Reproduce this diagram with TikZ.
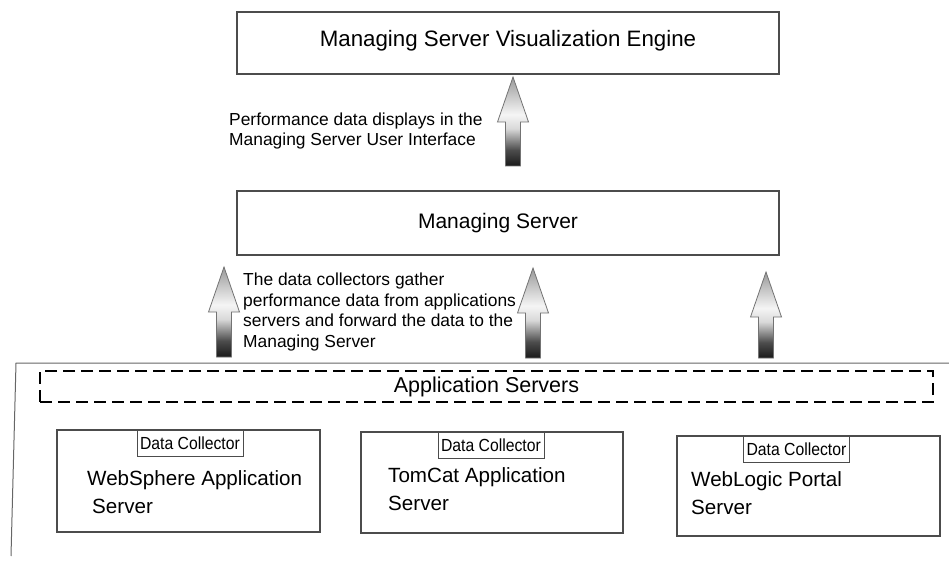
\documentclass[tikz,border=0pt]{standalone}
\usepackage{fontspec}
\setmainfont{Liberation Sans}
\newfontfamily\narrowfont[FakeStretch=0.9]{Liberation Sans}
\usetikzlibrary{positioning}

\pgfdeclareverticalshading{arrowshade}{100bp}{color(0bp)=(black!90);
  color(25bp)=(black!90); color(34bp)=(black!70); color(46bp)=(black!15);
  color(54bp)=(black!4); color(75bp)=(black!40); color(100bp)=(black!40)}

\newcommand\upblock[3]{%
  \path[blockarrow] (#1-7.5,#3) -- (#1-7.5,#2+45) -- (#1-15.5,#2+45) -- (#1,#2)
    -- (#1+15.5,#2+45) -- (#1+7.5,#2+45) -- (#1+7.5,#3) -- cycle;}

\begin{document}
\begin{tikzpicture}[x=1pt, y=-1pt,
    box/.style = {rectangle, draw=black!70, line width=1.2pt, inner sep=0pt},
    title/.style = {font=\fontsize{21.5}{26}\selectfont},
    note/.style = {font=\fontsize{17.4}{20.5}\selectfont, align=left, inner sep=0pt},
    dctab/.style = {rectangle, draw=black!70, line width=1pt, minimum width=106pt,
      minimum height=27pt, inner sep=0pt, anchor=north,
      font=\narrowfont\fontsize{17.5}{20}\selectfont},
    srvname/.style = {font=\fontsize{20.6}{28}\selectfont, align=left,
      inner sep=0pt, anchor=west},
    blockarrow/.style = {draw=black!55, line width=0.8pt, shading=arrowshade}]
  \useasboundingbox (0,0) rectangle (949,561);

  \node[box, font=\fontsize{22.3}{26}\selectfont, text depth=9pt,
    minimum width=542pt, minimum height=62pt] (engine) at (508,43)
    {Managing Server Visualization Engine};
  \node[box, font=\fontsize{21}{26}\selectfont, minimum width=542pt,
    minimum height=64pt] (mserver) at (508,223)
    {\hspace*{-20pt}Managing Server};

  \node[note, anchor=west] (perfnote) at (229,131)
    {Performance data displays in the\\Managing Server User Interface};
  \node[note, anchor=north west] (gathernote) at (243,273)
    {The data collectors gather\\performance data from applications\\
     servers and forward the data to the\\Managing Server};

  \upblock{513}{77}{166}
  \upblock{224}{267}{357}
  \upblock{533}{268}{358}
  \upblock{766}{272}{358}

  \coordinate (frameright) at (949,363);
  \coordinate (framecorner) at (16,363);
  \coordinate (framebottom) at (11,556);
  \draw[black!60, line width=1pt] (frameright) -- (framecorner) -- (framebottom);

  \node[rectangle, draw, line width=2.4pt, dash pattern=on 12pt off 6pt, title,
    minimum width=893pt, minimum height=31pt, inner sep=0pt] (appservers)
    at (486.5,386.5) {Application Servers};

  \node[box, minimum width=263pt, minimum height=102pt] (websphere) at (188.5,481) {};
  \node[box, minimum width=262pt, minimum height=101pt] (tomcat) at (492,482.5) {};
  \node[box, minimum width=263pt, minimum height=100pt] (weblogic) at (808.5,486) {};

  \node[dctab] (dcws) at ([xshift=1.5pt]websphere.north) {Data Collector};
  \node[dctab] (dctc) at ([xshift=-1pt]tomcat.north) {Data Collector};
  \node[dctab] (dcwl) at ([xshift=-12pt]weblogic.north) {Data Collector};

  \node[srvname] (wsname) at (87,492) {WebSphere Application\\\hspace*{5pt}Server};
  \node[srvname] (tcname) at (388,489) {TomCat Application\\Server};
  \node[srvname] (wlname) at (691,493) {WebLogic Portal\\Server};
\end{tikzpicture}
\end{document}
